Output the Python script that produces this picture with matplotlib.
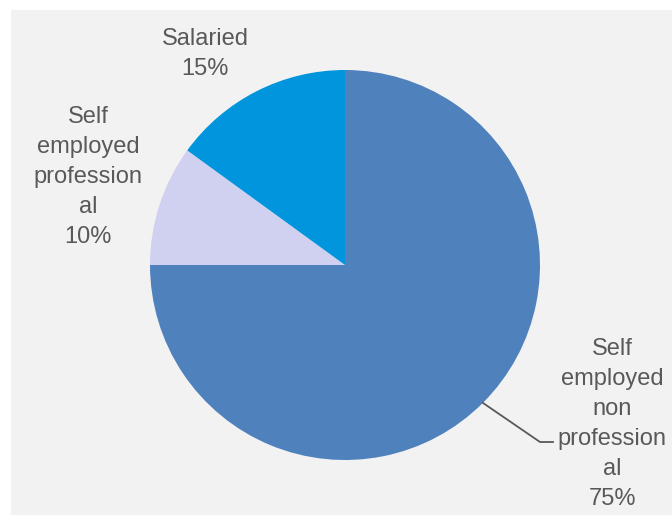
import numpy as np
import matplotlib.pyplot as plt
from matplotlib.patches import Rectangle

# Datos del grafico
categorias = ['Self\nemployed\nnon\nprofession\nal', 'Self\nemployed\nprofession\nal', 'Salaried']
porcentajes = [75, 10, 15]
colores = ['#4F81BD', '#D0D0F0', '#0095DC']

W, H = 672, 515
fig = plt.figure(figsize=(W / 100, H / 100), dpi=100)
ax = fig.add_axes([0, 0, 1, 1])

# Fondo gris del area del grafico
ax.add_patch(Rectangle((11, 0), W - 11, H - 10, facecolor='#F2F2F2', edgecolor='none', zorder=0))

centro = (345, H - 265)
radio = 195
wedges, _ = ax.pie(porcentajes, colors=colores, startangle=90, counterclock=False,
                   center=centro, radius=radio, frame=True)
for w in wedges:
    w.set_zorder(2)
ax.set_xlim(0, W)
ax.set_ylim(0, H)
ax.axis('off')

estilo = dict(fontsize=17, color='#595959', ha='center', va='center',
              linespacing=1.48, family='Liberation Sans', zorder=3)

etiquetas = [f'{c}\n{p}%' for c, p in zip(categorias, porcentajes)]

# Linea guia desde el centro del arco de la porcion grande
w0 = wedges[0]
ang = np.deg2rad((w0.theta1 + w0.theta2) / 2)
x0 = centro[0] + radio * np.cos(ang)
y0 = centro[1] + radio * np.sin(ang)
ax.plot([x0, 540, 553], [y0, H - 442, H - 442], color='#595959', lw=1.3, zorder=3)

ax.text(612, H - 424, etiquetas[0], **estilo)
ax.text(88, H - 177, etiquetas[1], **estilo)
ax.text(205, H - 54, etiquetas[2], **estilo)

fig.savefig('out.png', dpi=100)
